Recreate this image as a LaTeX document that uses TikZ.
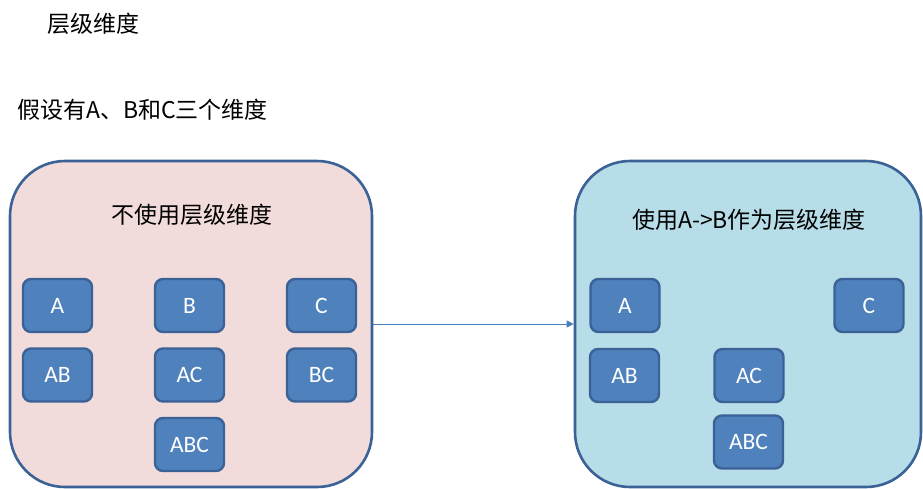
\documentclass[tikz,border=0pt]{standalone}
\usepackage{fontspec}
\usepackage{tikz}
\usetikzlibrary{arrows.meta}
\setmainfont{Carlito}
\newfontfamily\cjk{Noto Sans CJK SC}
\definecolor{boxline}{HTML}{3A6296}
\definecolor{pinkfill}{HTML}{F2DCDB}
\definecolor{bluefill}{HTML}{B7DDE8}
\definecolor{cellfill}{HTML}{4F81BD}
\definecolor{arrowblue}{HTML}{4A7EBB}

\begin{document}
\begin{tikzpicture}[x=1pt,y=-1pt,
  panel/.style={draw=boxline, line width=2.6pt, rounded corners=55pt,
    minimum width=362pt, minimum height=326pt, inner sep=0pt},
  cell/.style={draw=boxline, fill=cellfill, line width=2.4pt, rounded corners=8pt,
    minimum width=69pt, minimum height=53pt, inner sep=0pt, text=white,
    font=\fontsize{23.5}{27}\selectfont},
  heading/.style={font=\fontsize{23}{28}\selectfont, inner sep=0pt}]
\useasboundingbox (0,0) rectangle (923,488);

% Titles
\node[heading, anchor=west] (title) at (47,24) {\cjk 层级维度};
\node[heading, anchor=west] (intro) at (17,110) {\cjk 假设有A、B和C三个维度};

% Left panel: without hierarchy
\node[panel, fill=pinkfill] (flat) at (191,324) {};
\node[heading] (flattitle) at (192,215) {\cjk 不使用层级维度};
\node[cell] (fa) at (57.5,305.5) {A};
\node[cell] (fb) at (189.5,305.5) {B};
\node[cell] (fc) at (321.5,305.5) {C};
\node[cell] (fab) at (57.5,375) {AB};
\node[cell] (fac) at (189.5,375) {AC};
\node[cell] (fbc) at (321.5,375) {BC};
\node[cell] (fabc) at (189.5,444.5) {ABC};

% Right panel: A->B as hierarchy
\node[panel, fill=bluefill, minimum width=346pt] (tree) at (748,324) {};
\node[heading] (treetitle) at (749,220) {\cjk 使用A->B作为层级维度};
\node[cell] (ta) at (625,305.5) {A};
\node[cell] (tc) at (869,305.5) {C};
\node[cell] (tab) at (624.5,375.5) {AB};
\node[cell] (tac) at (749,375.5) {AC};
\node[cell] (tabc) at (748.5,442) {ABC};

% Connector
\draw[arrowblue, line width=1pt, -{Triangle[length=7pt,width=7pt]}] (flat.east) -- (tree.west);
\end{tikzpicture}
\end{document}
